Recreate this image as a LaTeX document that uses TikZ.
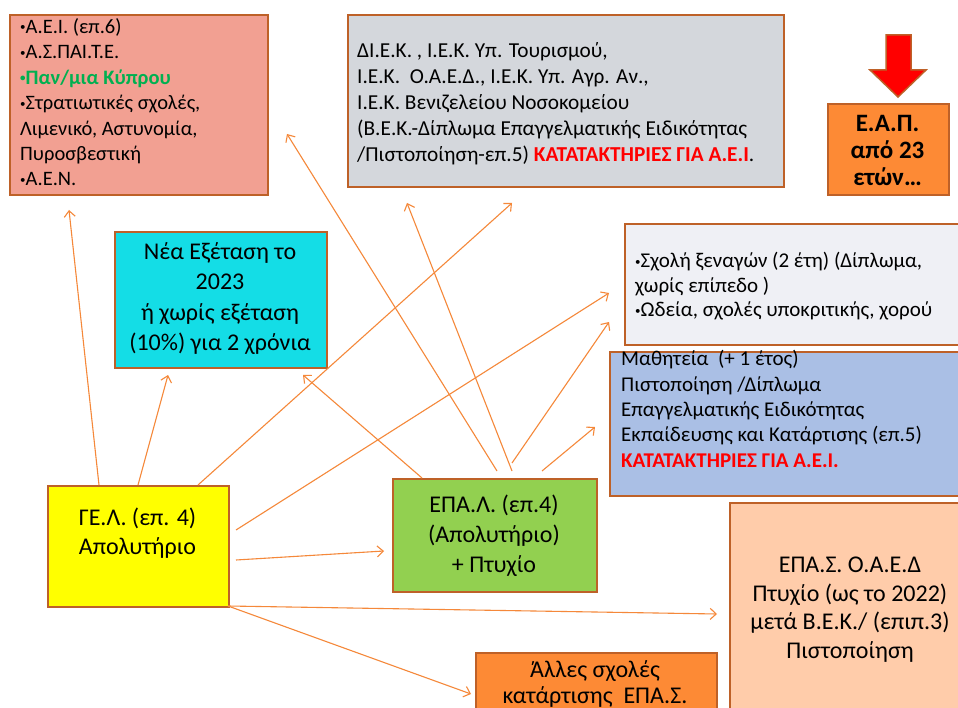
\documentclass[tikz,border=0pt]{standalone}
\usepackage{fontspec}
\setmainfont{Carlito}
\usetikzlibrary{arrows.meta}
\definecolor{bord}{HTML}{BE6128}
\definecolor{pinkc}{HTML}{F2A092}
\definecolor{grayc}{HTML}{D4D7DC}
\definecolor{orangec}{HTML}{FD8A35}
\definecolor{tealc}{HTML}{14DDE6}
\definecolor{lightc}{HTML}{EFF0F5}
\definecolor{bluec}{HTML}{AABFE5}
\definecolor{yellowc}{HTML}{FFFF00}
\definecolor{greenc}{HTML}{92D050}
\definecolor{peachc}{HTML}{FFCCAA}
\definecolor{arr}{HTML}{F5883A}
\definecolor{grntxt}{HTML}{00B050}
\definecolor{redtxt}{HTML}{FF0000}
\newcommand\mybul{\raisebox{2.6pt}{\fontsize{11}{0}\selectfont •}}
\begin{document}
\begin{tikzpicture}[x=1pt,y=-1pt,
  box/.style={draw=bord, line width=2.2pt, inner sep=0pt, anchor=north west},
  txt/.style={inner sep=0pt, text=black},
  conn/.style={draw=arr, line width=1.1pt, -{Straight Barb[length=6pt,width=11pt,line width=1.1pt]}},
]
\clip (0,0) rectangle (958,708);
\fill[white] (0,0) rectangle (958,708);

% boxes
\node[box, fill=pinkc, minimum width=258pt, minimum height=180pt] (aei) at (9,14) {};
\node[box, fill=grayc, minimum width=436pt, minimum height=172pt] (iek) at (347,14) {};
\node[box, fill=orangec, minimum width=121pt, minimum height=91pt] (eap) at (827,103) {};
\node[box, fill=tealc, minimum width=212pt, minimum height=136pt] (nea) at (114,231) {};
\node[box, fill=lightc, minimum width=350pt, minimum height=121pt] (xen) at (624,223) {};
\node[box, fill=bluec, minimum width=360pt, minimum height=144pt] (math) at (609,351) {};
\node[box, fill=yellowc, minimum width=181pt, minimum height=121pt] (gel) at (47,485) {};
\node[box, fill=greenc, minimum width=204pt, minimum height=113pt] (epal) at (392,478) {};
\node[box, fill=peachc, minimum width=250pt, minimum height=220pt] (epas) at (729,502) {};
\node[box, fill=orangec, minimum width=241pt, minimum height=70pt] (alles) at (475,652) {};

% red down arrow
\draw[fill=red, draw=bord, line width=1.5pt, line join=miter]
  (886,35) -- (911,35) -- (911,70) -- (926,70) -- (898,97) -- (870,70) -- (886,70) -- cycle;

% texts (anchor = baseline of the last line)
\node[txt, anchor=base west, align=left, font=\fontsize{20.5}{25.4}\selectfont] (aeit) at (20,186)
 {\mybul Α.Ε.Ι. (επ.6)\\ \mybul Α.Σ.ΠΑΙ.Τ.Ε.\\ {\color{grntxt}\bfseries \mybul Παν/μια Κύπρου}\\ \mybul Στρατιωτικές σχολές,\\ Λιμενικό, Αστυνομία,\\ Πυροσβεστική\\ \mybul Α.Ε.Ν.};
\node[txt, anchor=base west, align=left, font=\fontsize{21.3}{26}\selectfont] (iekt) at (357,162)
 {ΔΙ.Ε.Κ. , Ι.Ε.Κ. Υπ. Τουρισμού,\\ Ι.Ε.Κ.\ \ Ο.Α.Ε.Δ., Ι.Ε.Κ. Υπ. Αγρ. Αν.,\\ Ι.Ε.Κ. Βενιζελείου Νοσοκομείου\\ (Β.Ε.Κ.-Δίπλωμα Επαγγελματικής Ειδικότητας\\ /Πιστοποίηση-επ.5)\ {\color{redtxt}\bfseries ΚΑΤΑΤΑΚΤΗΡΙΕΣ ΓΙΑ Α.Ε.Ι}.};
\node[txt, anchor=base, align=center, font=\fontsize{25}{27}\selectfont\bfseries] (eapt) at (887.5,186)
 {Ε.Α.Π.\\ από 23\\ ετών…};
\node[txt, anchor=base, align=center, font=\fontsize{24}{30.5}\selectfont] (neat) at (220,351)
 {Νέα Εξέταση το\\ 2023\\ ή χωρίς εξέταση\\ (10\%) για 2 χρόνια};
\node[txt, anchor=base west, align=left, font=\fontsize{21}{24.5}\selectfont] (xent) at (635,317)
 {\mybul Σχολή ξεναγών (2 έτη) (Δίπλωμα,\\ χωρίς επίπεδο )\\ \mybul Ωδεία, σχολές υποκριτικής, χορού};
\node[txt, anchor=base west, align=left, font=\fontsize{21}{25.3}\selectfont] (matht) at (621,467)
 {Μαθητεία\ \ (+ 1 έτος)\\ Πιστοποίηση /Δίπλωμα\\ Επαγγελματικής Ειδικότητας\\ Εκπαίδευσης και Κατάρτισης (επ.5)\\ {\color{redtxt}\bfseries ΚΑΤΑΤΑΚΤΗΡΙΕΣ ΓΙΑ Α.Ε.Ι.}};
\node[txt, anchor=base, align=center, font=\fontsize{24}{29}\selectfont] (gelt) at (137.5,554)
 {ΓΕ.Λ. (επ. 4)\\ Απολυτήριο};
\node[txt, anchor=base, align=center, font=\fontsize{24}{30}\selectfont] (epalt) at (494,572)
 {ΕΠΑ.Λ. (επ.4)\\ (Απολυτήριο)\\ + Πτυχίο};
\node[txt, anchor=base, align=center, font=\fontsize{24}{28.5}\selectfont] (epast) at (850,658)
 {ΕΠΑ.Σ. Ο.Α.Ε.Δ\\ Πτυχίο (ως το 2022)\\ μετά Β.Ε.Κ./ (επιπ.3)\\ Πιστοποίηση};
\node[txt, anchor=base, align=center, font=\fontsize{24}{26}\selectfont] (allest) at (595,703)
 {Άλλες σχολές\\ κατάρτισης\ \ ΕΠΑ.Σ.};

% connector end points
\coordinate (g1) at (99,485);   \coordinate (t1) at (69,210);
\coordinate (g2) at (138,485);  \coordinate (t2) at (168,375);
\coordinate (g3) at (198,485);  \coordinate (t3) at (512,203);
\coordinate (g4) at (236,530);  \coordinate (t4) at (609,293);
\coordinate (g5) at (236,560);  \coordinate (t5) at (384,551);
\coordinate (g6) at (228,606);  \coordinate (t6) at (717,614);
\coordinate (t7) at (471,694);
\coordinate (e1) at (422,478);  \coordinate (s1) at (303,375);
\coordinate (e2) at (497,471);  \coordinate (s2) at (287,134);
\coordinate (e3) at (512,471);  \coordinate (s3) at (407,203);
\coordinate (e4) at (512,463);  \coordinate (s4) at (609,322);
\coordinate (e5) at (542,471);  \coordinate (s5) at (595,427);

\draw[conn] (g1) -- (t1);
\draw[conn] (g2) -- (t2);
\draw[conn] (g3) -- (t3);
\draw[conn] (g4) -- (t4);
\draw[conn] (g5) -- (t5);
\draw[conn] (g6) -- (t6);
\draw[conn] (g6) -- (t7);
\draw[conn] (e1) -- (s1);
\draw[conn] (e2) -- (s2);
\draw[conn] (e3) -- (s3);
\draw[conn] (e4) -- (s4);
\draw[conn] (e5) -- (s5);
\end{tikzpicture}
\end{document}
